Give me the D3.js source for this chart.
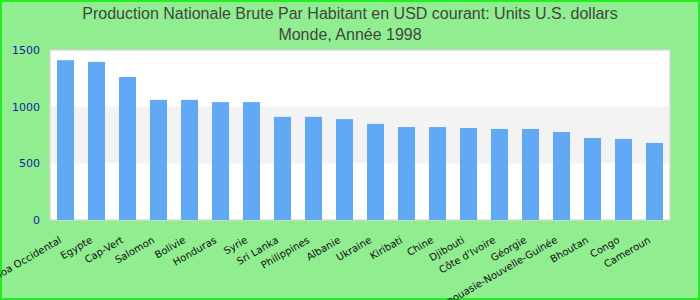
<!DOCTYPE html>
<html><head><meta charset="utf-8">
<script src="https://cdn.jsdelivr.net/npm/d3@7"></script>
<style>body{margin:0;padding:0;} svg{display:block;}</style>
</head><body>
<svg id="chart" width="700" height="300"></svg>
<script>
const categories = ["Samoa Occidental","Egypte","Cap-Vert","Salomon","Bolivie","Honduras","Syrie","Sri Lanka","Philippines","Albanie","Ukraine","Kiribati","Chine","Djibouti","Côte d'Ivoire","Géorgie","Papouasie-Nouvelle-Guinée","Bhoutan","Congo","Cameroun"];
const values = [1410,1395,1262,1060,1060,1040,1040,910,910,890,848,820,820,812,803,803,776,724,715,680];
const yTicks = [0,500,1000,1500];
const titleLines = ["Production Nationale Brute Par Habitant en USD courant: Units U.S. dollars","Monde, Année 1998"];

const svg = d3.select("#chart");
const W = 700, H = 300;
const m = {left:50, right:30, top:50, bottom:80};

svg.append("rect").attr("x",1).attr("y",1).attr("width",W-2).attr("height",H-2)
  .attr("fill","#90ee90").attr("stroke","#22ee22").attr("stroke-width",2);

const x = d3.scaleBand().domain(categories).range([m.left, W-m.right]).paddingInner(0.45).paddingOuter(0.225);
const y = d3.scaleLinear().domain([0,1500]).range([H-m.bottom, m.top]);

svg.append("rect").attr("x",m.left).attr("y",m.top).attr("width",W-m.left-m.right).attr("height",y(0)-m.top)
  .attr("fill","#ffffff").attr("stroke","#d8d8d8").attr("stroke-width",1.5);

// alternating band
svg.append("rect").attr("x",m.left+1).attr("y",y(1000)).attr("width",W-m.left-m.right-2).attr("height",y(500)-y(1000))
  .attr("fill","#f3f3f3");

svg.append("g").selectAll("rect").data(values).join("rect")
  .attr("x",(d,i)=>x(categories[i])).attr("y",d=>y(d))
  .attr("width",x.bandwidth()).attr("height",d=>y(0)-y(d))
  .attr("fill","#61a9f5");

// y axis
const ya = svg.append("g").attr("transform",`translate(${m.left},0)`)
  .call(d3.axisLeft(y).tickValues(yTicks).tickFormat(d3.format("d")).tickSize(0).tickPadding(10));
ya.select(".domain").remove();
ya.selectAll("text").attr("fill","#1a1a9c").style("font-family","DejaVu Sans").style("font-size","11px");

// x axis
const xa = svg.append("g").attr("transform",`translate(0,${y(0)})`)
  .call(d3.axisBottom(x).tickSize(0));
xa.select(".domain").remove();
xa.selectAll("text")
  .attr("fill","#111")
  .style("font-family","DejaVu Sans").style("font-size","10px")
  .attr("text-anchor","end")
  .attr("y",0).attr("dy","0.35em")
  .attr("transform","translate(-5,19) rotate(-30)");

// title
svg.append("g").selectAll("text").data(titleLines).join("text")
  .attr("x",W/2).attr("y",(d,i)=>19+i*21)
  .attr("text-anchor","middle")
  .attr("fill","#444")
  .style("font-family","Liberation Sans, Arial, sans-serif").style("font-size","16px")
  .text(d=>d);
</script>
</body></html>
